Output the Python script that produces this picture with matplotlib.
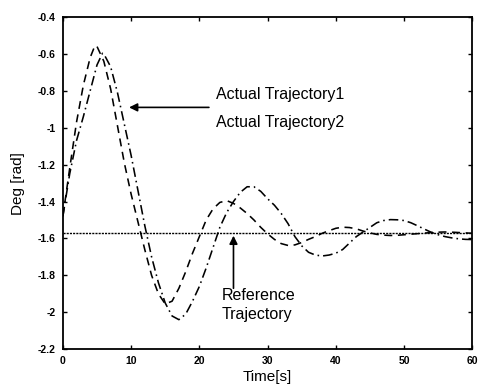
import matplotlib
matplotlib.use("Agg")
import matplotlib.pyplot as plt
import numpy as np

# Actual Trajectory 1 (dashed)
t1 = [0, 1, 2, 3, 4, 4.7, 5, 6, 7, 8, 9, 10, 11, 12, 13, 14, 15, 16, 17, 18, 19, 20,
      21, 22, 23, 24, 25, 26, 27, 28, 29, 30, 31, 32, 33, 34, 35, 36, 37, 38, 39, 40,
      41, 42, 43, 44, 45, 46, 47, 48, 49, 50, 51, 52, 53, 54, 55, 56, 57, 58, 59, 60]
y1 = [-1.48, -1.22, -0.97, -0.77, -0.62, -0.555, -0.56, -0.64, -0.79, -0.99, -1.19,
      -1.36, -1.51, -1.66, -1.80, -1.90, -1.955, -1.94, -1.87, -1.78, -1.68, -1.59,
      -1.50, -1.44, -1.405, -1.395, -1.41, -1.435, -1.465, -1.50, -1.54, -1.575,
      -1.605, -1.628, -1.638, -1.635, -1.622, -1.605, -1.59, -1.572, -1.558, -1.545,
      -1.539, -1.541, -1.548, -1.56, -1.57, -1.578, -1.582, -1.584, -1.583, -1.58,
      -1.577, -1.574, -1.571, -1.568, -1.566, -1.565, -1.566, -1.568, -1.57, -1.572]

# Actual Trajectory 2 (dash-dot)
t2 = [0, 1, 2, 3, 4, 5, 5.8, 6, 7, 8, 9, 10, 11, 12, 13, 14, 15, 16, 17, 18, 19, 20,
      21, 22, 23, 24, 25, 26, 27, 28, 29, 30, 31, 32, 33, 34, 35, 36, 37, 38, 39, 40,
      41, 42, 43, 44, 45, 46, 47, 48, 49, 50, 51, 52, 53, 54, 55, 56, 57, 58, 59, 60]
y2 = [-1.48, -1.25, -1.07, -0.94, -0.80, -0.66, -0.597, -0.60, -0.67, -0.81, -0.98,
      -1.15, -1.34, -1.53, -1.70, -1.84, -1.95, -2.02, -2.04, -2.01, -1.94, -1.86,
      -1.76, -1.65, -1.54, -1.46, -1.40, -1.35, -1.32, -1.32, -1.345, -1.385, -1.42,
      -1.465, -1.52, -1.59, -1.64, -1.675, -1.69, -1.695, -1.69, -1.68, -1.66, -1.625,
      -1.59, -1.565, -1.54, -1.515, -1.503, -1.498, -1.499, -1.503, -1.515, -1.532,
      -1.55, -1.567, -1.58, -1.59, -1.597, -1.602, -1.605, -1.606]

ref_value = -1.5708
xticks = [0, 10, 20, 30, 40, 50, 60]
yticks = [-0.4, -0.6, -0.8, -1, -1.2, -1.4, -1.6, -1.8, -2, -2.2]
ytick_labels = ["-0.4", "-0.6", "-0.8", "-1", "-1.2", "-1.4", "-1.6", "-1.8", "-2", "-2.2"]

plt.rcParams['font.family'] = ['Liberation Sans', 'DejaVu Sans']

fig = plt.figure(figsize=(4.8, 3.85), dpi=100)
ax = fig.add_axes([0.131, 0.093, 0.853, 0.863])

ax.axhline(ref_value, color='black', lw=1.0, linestyle=(0, (1.5, 0.8)))
ax.plot(t1, y1, color='black', lw=1.15, linestyle=(0, (5, 3.5)))
ax.plot(t2, y2, color='black', lw=1.15, linestyle=(0, (6, 2.5, 1, 2.5)))

ax.set_xlim(0, 60)
ax.set_ylim(-2.2, -0.4)
ax.set_xticks(xticks)
ax.set_xticklabels([str(v) for v in xticks], fontsize=7.5, fontweight='bold')
ax.set_yticks(yticks)
ax.set_yticklabels(ytick_labels, fontsize=7.5, fontweight='bold')
ax.tick_params(direction='in', length=3, width=1, top=True, right=True, pad=5)
for s in ax.spines.values():
    s.set_linewidth(1.3)

ax.set_xlabel("Time[s]", fontsize=11, labelpad=3)
ax.set_ylabel("Deg [rad]", fontsize=11, labelpad=9)

ax.annotate("", xy=(9.7, -0.89), xytext=(21.4, -0.89),
            arrowprops=dict(arrowstyle='-|>', color='black', lw=1.2,
                            mutation_scale=12, shrinkA=0, shrinkB=0))
ax.text(22.4, -0.82, "Actual Trajectory1", fontsize=11.5, va='center', ha='left')
ax.text(22.4, -0.97, "Actual Trajectory2", fontsize=11.5, va='center', ha='left')

ax.annotate("", xy=(25.0, -1.585), xytext=(25.0, -1.87),
            arrowprops=dict(arrowstyle='-|>', color='black', lw=1.2,
                            mutation_scale=12, shrinkA=0, shrinkB=0))
ax.text(23.3, -1.91, "Reference", fontsize=11.5, va='center', ha='left')
ax.text(23.3, -2.01, "Trajectory", fontsize=11.5, va='center', ha='left')

fig.savefig("out.png", dpi=100)
